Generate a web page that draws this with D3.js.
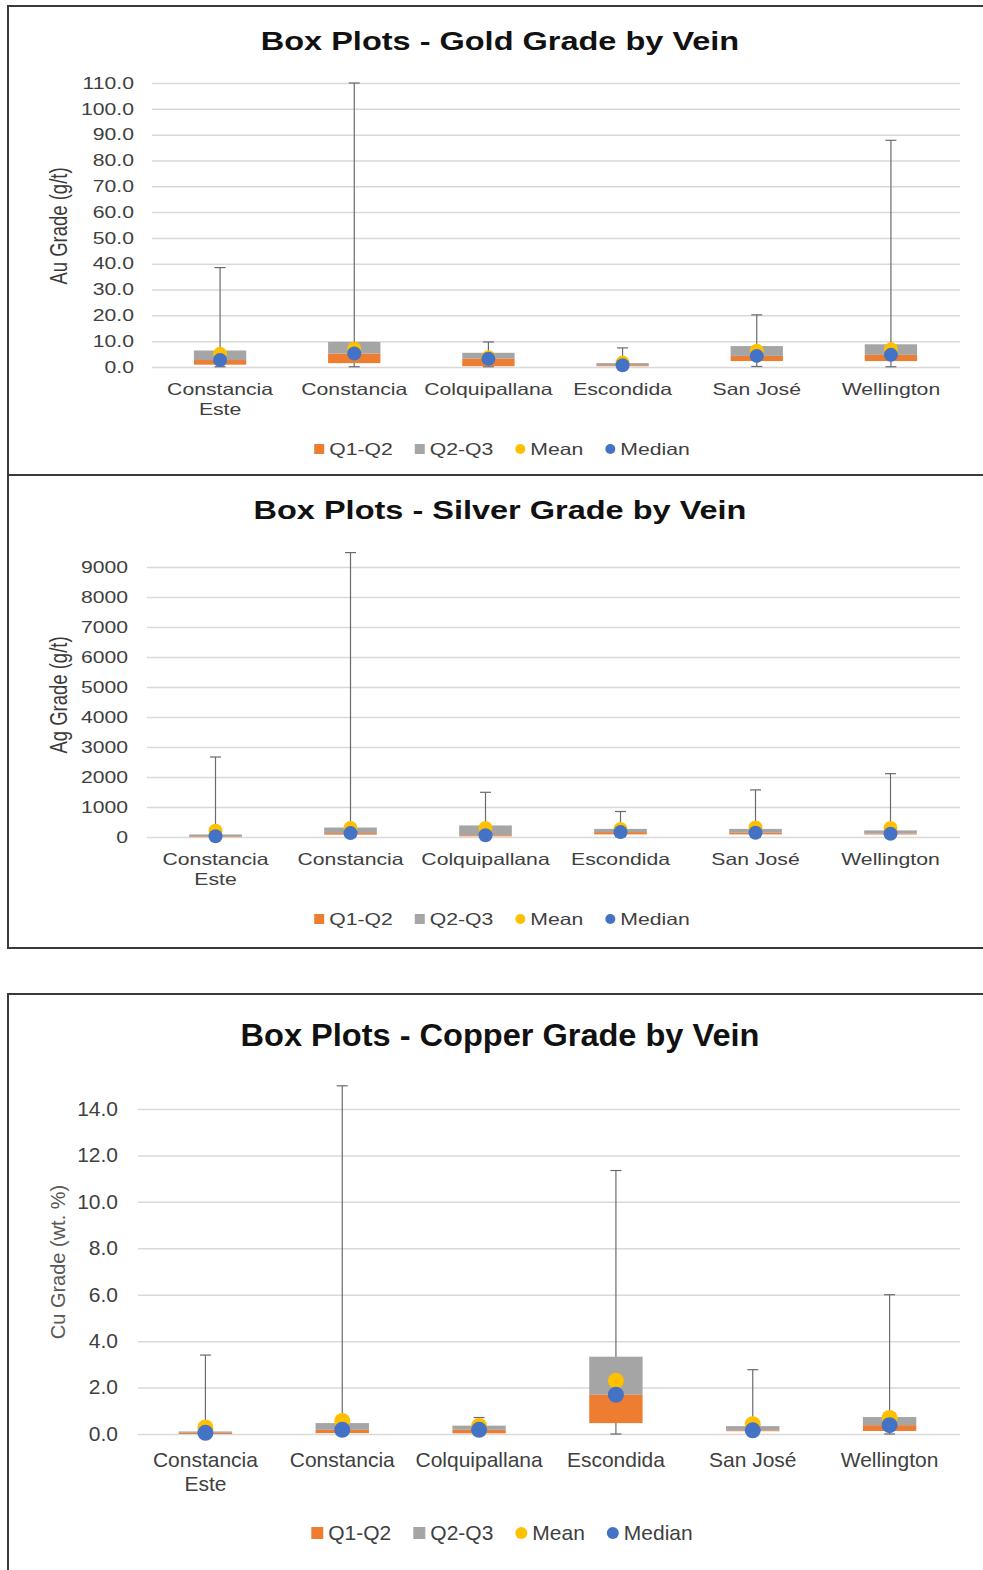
<!DOCTYPE html>
<html>
<head>
<meta charset="utf-8">
<script src="https://cdn.jsdelivr.net/npm/d3@7"></script>
<style>
  html, body { margin: 0; padding: 0; background: #fff; }
  svg { display: block; }
  text { font-family: "Liberation Sans", Arial, sans-serif; }
</style>
</head>
<body>
<svg id="chart" width="983" height="1570"></svg>
<script>
// ---- Data ------------------------------------------------------------
const veins = ["Constancia Este", "Constancia", "Colquipallana", "Escondida", "San José", "Wellington"];

// Gold (g/t)
const auMin    = [0.1, 0.1, 0.1, 0.1, 0.2, 0.1];
const auQ1     = [0.9, 1.5, 0.3, 0.3, 2.3, 2.3];
const auMedian = [2.7, 5.2, 3.2, 0.7, 4.3, 4.7];
const auQ3     = [6.4, 9.7, 5.5, 1.5, 8.1, 8.8];
const auMax    = [38.5, 110.0, 9.7, 7.4, 20.2, 87.8];
const auMean   = [5.1, 7.1, 3.8, 1.7, 6.3, 6.9];
const auTicks  = [0, 10, 20, 30, 40, 50, 60, 70, 80, 90, 100, 110];

// Silver (g/t)
const agMin    = [0, 5, 0, 10, 10, 5];
const agQ1     = [10, 78, 22, 87, 87, 87];
const agMedian = [25, 130, 60, 163, 140, 110];
const agQ3     = [85, 315, 385, 270, 270, 220];
const agMax    = [2667, 9480, 1490, 850, 1570, 2111];
const agMean   = [210, 300, 300, 270, 320, 300];
const agTicks  = [0, 1000, 2000, 3000, 4000, 5000, 6000, 7000, 8000, 9000];

// Copper (wt.%)
const cuMin    = [0, 0, 0, 0, 0, 0];
const cuQ1     = [0.0, 0.04, 0.03, 0.47, 0.12, 0.13];
const cuMedian = [0.05, 0.18, 0.18, 1.69, 0.16, 0.38];
const cuQ3     = [0.11, 0.47, 0.36, 3.33, 0.34, 0.73];
const cuMax    = [3.4, 15.0, 0.71, 11.35, 2.77, 6.0];
const cuMean   = [0.28, 0.56, 0.35, 2.29, 0.42, 0.69];
const cuTicks  = [0, 2, 4, 6, 8, 10, 12, 14];

const seriesNames = ["Q1-Q2", "Q2-Q3", "Mean", "Median"];
const colors = { q12: "#ED7D31", q23: "#A5A5A5", mean: "#FFC000", median: "#4472C4" };

// ---- Panel layout ----------------------------------------------------
const panels = [
  {
    title: "Box Plots - Gold Grade by Vein", yLabel: "Au Grade (g/t)",
    min: auMin, q1: auQ1, med: auMedian, q3: auQ3, max: auMax, mean: auMean,
    ticks: auTicks, fmt: d3.format(".1f"),
    frame: [6, 475], xr: [153, 958], yr: [367, 83], gridX0: 152,
    tickRight: 134, titleY: 50, titleSize: 25, ylabX: 67, ylabY: 226, ylabSize: 18.5, ylabColor: "#3a3a3a",
    catY: 395, lineH: 20, legendY: 449, font: 16.3, sx: 1.3, dotR: 7, legR: 5, sq: 10
  },
  {
    title: "Box Plots - Silver Grade by Vein", yLabel: "Ag Grade (g/t)",
    min: agMin, q1: agQ1, med: agMedian, q3: agQ3, max: agMax, mean: agMean,
    ticks: agTicks, fmt: d3.format("d"),
    frame: [475, 948], xr: [148, 958], yr: [837, 567], gridX0: 147,
    tickRight: 128, titleY: 519, titleSize: 25, ylabX: 67, ylabY: 695, ylabSize: 18.5, ylabColor: "#3a3a3a",
    catY: 865, lineH: 20, legendY: 919, font: 16.3, sx: 1.3, dotR: 7, legR: 5, sq: 10
  },
  {
    title: "Box Plots - Copper Grade by Vein", yLabel: "Cu Grade (wt. %)",
    min: cuMin, q1: cuQ1, med: cuMedian, q3: cuQ3, max: cuMax, mean: cuMean,
    ticks: cuTicks, fmt: d3.format(".1f"),
    frame: [994, 1600], xr: [137, 958], yr: [1434, 1109], gridX0: 138,
    tickRight: 118, titleY: 1046, titleSize: 31, ylabX: 65, ylabY: 1262, ylabSize: 20, ylabColor: "#595959",
    catY: 1467, lineH: 24, legendY: 1533, font: 20, sx: 1.05, dotR: 8, legR: 6, sq: 12
  }
];

const svg = d3.select("#chart");

// Text with a horizontal stretch applied around its anchor point
function sText(g, x, y, str, size, sx, anchor, extra) {
  const t = g.append("text")
    .attr("transform", `translate(${x},${y}) scale(${sx},1)` + (extra || ""))
    .attr("text-anchor", anchor)
    .attr("font-size", size)
    .attr("fill", "#404040")
    .text(str);
  return t;
}

panels.forEach(p => {
  const g = svg.append("g");

  // frame
  g.append("rect")
    .attr("x", 8).attr("y", p.frame[0])
    .attr("width", 1000).attr("height", p.frame[1] - p.frame[0])
    .attr("fill", "none").attr("stroke", "#3a3a3a").attr("stroke-width", 2);

  const x = d3.scaleBand().domain(veins).range(p.xr).padding(0);
  const y = d3.scaleLinear().domain([0, d3.max(p.ticks)]).range(p.yr);
  const bw = x.bandwidth() * 0.39;

  // title
  sText(g, 500, p.titleY, p.title, p.titleSize, p.sx, "middle")
    .attr("font-weight", "bold").attr("fill", "#111");

  // y axis with gridlines
  const gridW = 960 - p.gridX0;
  const ax = g.append("g")
    .attr("transform", `translate(${p.gridX0},0)`)
    .call(d3.axisLeft(y).tickValues(p.ticks).tickFormat(p.fmt).tickSize(-gridW).tickSizeOuter(0));
  ax.select(".domain").remove();
  ax.selectAll(".tick line").attr("stroke", "#d9d9d9").attr("stroke-width", 1.5);
  ax.selectAll(".tick text")
    .attr("x", -(p.gridX0 - p.tickRight) / p.sx)
    .attr("transform", `scale(${p.sx},1)`)
    .attr("font-size", p.font)
    .attr("font-family", "'Liberation Sans', Arial, sans-serif")
    .attr("fill", "#404040");

  // y axis title
  sText(g, p.ylabX, p.ylabY, p.yLabel, p.ylabSize, p.sx, "middle", " rotate(-90)")
    .attr("fill", p.ylabColor);

  // category labels (wrap when wider than the band)
  veins.forEach(v => {
    const cx = x(v) + x.bandwidth() / 2;
    const probe = sText(g, cx, p.catY, v, p.font, p.sx, "middle");
    const w = probe.node().getComputedTextLength() * p.sx;
    if (w > x.bandwidth() && v.includes(" ")) {
      probe.remove();
      const i = v.indexOf(" ");
      sText(g, cx, p.catY, v.slice(0, i), p.font, p.sx, "middle");
      sText(g, cx, p.catY + p.lineH, v.slice(i + 1), p.font, p.sx, "middle");
    }
  });

  const idx = d3.range(veins.length);
  const cxOf = i => x(veins[i]) + x.bandwidth() / 2;

  // whiskers
  const wg = g.append("g").attr("stroke", "#6b6b6b").attr("stroke-width", 1.2);
  idx.forEach(i => {
    const cx = cxOf(i);
    wg.append("line").attr("x1", cx).attr("x2", cx).attr("y1", y(p.max[i])).attr("y2", y(p.min[i]));
    [p.max[i], p.min[i]].forEach(v => {
      wg.append("line").attr("x1", cx - 5.5).attr("x2", cx + 5.5).attr("y1", y(v)).attr("y2", y(v));
    });
  });

  // boxes: Q1-Q2 then Q2-Q3
  g.append("g").selectAll("rect").data(idx).join("rect")
    .attr("x", i => cxOf(i) - bw / 2).attr("width", bw)
    .attr("y", i => y(p.med[i])).attr("height", i => Math.max(0.8, y(p.q1[i]) - y(p.med[i])))
    .attr("fill", colors.q12);
  g.append("g").selectAll("rect").data(idx).join("rect")
    .attr("x", i => cxOf(i) - bw / 2).attr("width", bw)
    .attr("y", i => y(p.q3[i])).attr("height", i => Math.max(0.8, y(p.med[i]) - y(p.q3[i])))
    .attr("fill", colors.q23);

  // mean and median markers
  g.append("g").selectAll("circle").data(idx).join("circle")
    .attr("cx", cxOf).attr("cy", i => y(p.mean[i])).attr("r", p.dotR).attr("fill", colors.mean);
  g.append("g").selectAll("circle").data(idx).join("circle")
    .attr("cx", cxOf).attr("cy", i => y(p.med[i])).attr("r", p.dotR).attr("fill", colors.median);

  // legend
  const lg = g.append("g");
  const markerKinds = ["sq12", "sq23", "dotMean", "dotMedian"];
  const gap = 5, itemGap = 22;
  let cur = 0;
  const items = [];
  seriesNames.forEach((name, k) => {
    const mw = k < 2 ? p.sq : p.legR * 2;
    const t = sText(lg, 0, p.legendY + p.font * 0.36, name, p.font, p.sx, "start");
    const tw = t.node().getComputedTextLength() * p.sx;
    items.push({ k, mw, t, x: cur });
    cur += mw + gap + tw + itemGap;
  });
  const total = cur - itemGap;
  const start = 502 - total / 2;
  items.forEach(it => {
    const x0 = start + it.x;
    if (it.k < 2) {
      lg.append("rect").attr("x", x0).attr("y", p.legendY - p.sq / 2).attr("width", p.sq).attr("height", p.sq)
        .attr("fill", it.k === 0 ? colors.q12 : colors.q23);
    } else {
      lg.append("circle").attr("cx", x0 + p.legR).attr("cy", p.legendY).attr("r", p.legR)
        .attr("fill", it.k === 2 ? colors.mean : colors.median);
    }
    it.t.attr("transform", `translate(${x0 + it.mw + gap},${p.legendY + p.font * 0.36}) scale(${p.sx},1)`);
  });
});
</script>
</body>
</html>
